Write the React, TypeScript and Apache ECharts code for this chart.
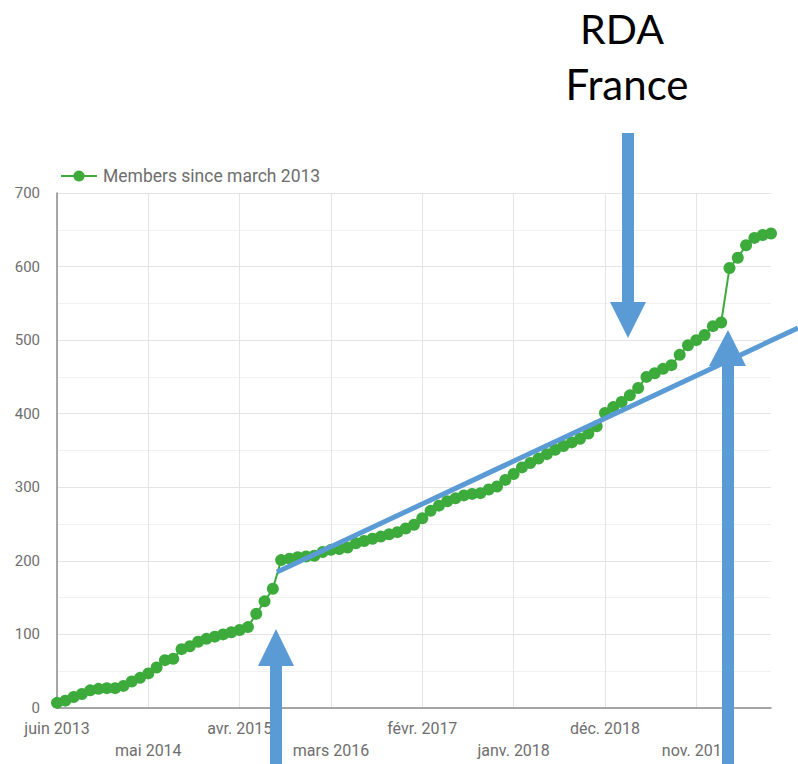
import React, { useEffect, useRef } from "react";
import * as echarts from "echarts";

const monthNames = ["janv.", "févr.", "mars", "avr.", "mai", "juin", "juil.", "août", "sept.", "oct.", "nov.", "déc."];
const startYear = 2013;
const startMonthIndex = 5; // juin

const members = [
  7, 10, 15, 19, 24, 26, 27, 27, 30, 36, 41, 47, 55, 65, 67, 80, 84, 90, 94, 97,
  100, 103, 106, 110, 128, 145, 162, 201, 203, 205, 206, 207, 212, 215, 216, 218, 224, 227, 230, 233,
  236, 239, 244, 249, 258, 268, 275, 281, 285, 289, 291, 292, 297, 301, 310, 318, 327, 333, 339, 345,
  351, 356, 361, 366, 373, 383, 401, 409, 416, 425, 435, 450, 455, 461, 466, 480, 493, 500, 507, 519,
  524, 598, 612, 629, 639, 643, 645,
];

const categories = members.map((_, i) => {
  const m = startMonthIndex + i;
  return `${monthNames[m % 12]} ${startYear + Math.floor(m / 12)}`;
});

const seriesName = "Members since march 2013";
const yTicks = { min: 0, max: 700, interval: 100 };
const labelEvery = 11;

const BLUE = "#5b9bd5";
const GREEN = "#3cab3c";

export default function App() {
  const ref = useRef<HTMLDivElement>(null);
  useEffect(() => {
    if (!ref.current) return;
    const chart = echarts.init(ref.current, undefined, { renderer: "svg" });
    chart.setOption({
      animation: false,
      backgroundColor: "#ffffff",
      grid: { left: 57, right: 27, top: 193, bottom: 56, containLabel: false },
      legend: {
        data: [seriesName],
        left: 55,
        top: 162,
        itemWidth: 36,
        itemHeight: 14,
        textStyle: { fontFamily: "Roboto", fontSize: 17.5, color: "#6e6e6e", padding: [0, 0, 0, 1] },
      },
      xAxis: {
        type: "category",
        data: categories,
        boundaryGap: false,
        axisTick: { show: false },
        axisLine: { lineStyle: { color: "#8c8c8c", width: 1.5 } },
        splitLine: { show: true, interval: labelEvery - 1, lineStyle: { color: "#e4e4e4", width: 1 } },
        axisLabel: {
          interval: labelEvery - 1,
          margin: 9,
          lineHeight: 22,
          fontFamily: "Roboto",
          fontSize: 16,
          color: "#6e6e6e",
          formatter: (v: string, idx: number) => (Math.round(idx / labelEvery) % 2 === 1 ? "\n" + v : v),
        },
      },
      yAxis: {
        type: "value",
        min: yTicks.min,
        max: yTicks.max,
        interval: yTicks.interval,
        axisLine: { show: true, lineStyle: { color: "#8c8c8c", width: 1.5 } },
        axisTick: { show: false },
        axisLabel: { margin: 17, fontFamily: "Roboto", fontSize: 15, color: "#6e6e6e" },
        splitLine: { lineStyle: { color: "#e4e4e4" } },
        minorTick: { show: false, splitNumber: 2 },
        minorSplitLine: { show: true, lineStyle: { color: "#f1f1f1" } },
      },
      series: [
        {
          name: seriesName,
          type: "line",
          data: members,
          symbol: "circle",
          symbolSize: 12,
          showSymbol: true,
          showAllSymbol: true,
          itemStyle: { color: GREEN },
          lineStyle: { color: GREEN, width: 2 },
        },
      ],
      graphic: [
        {
          type: "text",
          x: 622,
          y: 28,
          z: 100,
          style: { text: "RDA", fontFamily: "Lato", fontSize: 41, fill: "#000", align: "center", verticalAlign: "middle" },
        },
        {
          type: "text",
          x: 627,
          y: 84,
          z: 100,
          style: { text: "France", fontFamily: "Lato", fontSize: 42, fill: "#000", align: "center", verticalAlign: "middle" },
        },
        {
          type: "line",
          z: 100,
          shape: { x1: 277, y1: 572, x2: 798, y2: 328 },
          style: { stroke: BLUE, lineWidth: 5 },
        },
        { type: "rect", z: 100, shape: { x: 622, y: 133, width: 12, height: 170 }, style: { fill: BLUE } },
        { type: "polygon", z: 100, shape: { points: [[610, 302], [646, 302], [628, 338]] }, style: { fill: BLUE } },
        { type: "rect", z: 100, shape: { x: 270, y: 665, width: 12, height: 100 }, style: { fill: BLUE } },
        { type: "polygon", z: 100, shape: { points: [[258, 666], [294, 666], [276, 629]] }, style: { fill: BLUE } },
        { type: "rect", z: 100, shape: { x: 722, y: 365, width: 12, height: 400 }, style: { fill: BLUE } },
        { type: "polygon", z: 100, shape: { points: [[709, 366], [746, 366], [728, 330]] }, style: { fill: BLUE } },
      ],
    });
    return () => chart.dispose();
  }, []);
  return <div ref={ref} style={{ position: "fixed", left: 0, top: 0, width: 798, height: 764 }} />;
}
